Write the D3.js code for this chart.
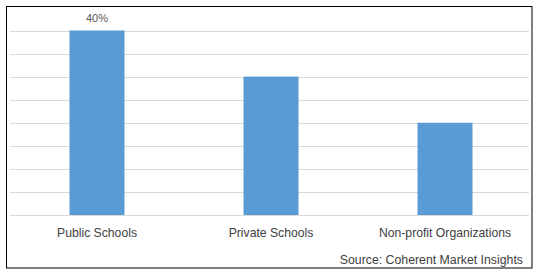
<!DOCTYPE html>
<html><head><meta charset="utf-8">
<script src="https://cdn.jsdelivr.net/npm/d3@7"></script>
<style>body{margin:0;background:#fff}svg{display:block}</style>
</head><body>
<script>
const categories = ["Public Schools", "Private Schools", "Non-profit Organizations"];
const values = [40, 30, 20];
const dataLabels = ["40%", "", ""];
const gridTicks = [0, 5, 10, 15, 20, 25, 30, 35, 40];
const sourceText = "Source: Coherent Market Insights";

const W = 538, H = 272;
const svg = d3.select("body").append("svg").attr("width", W).attr("height", H);
svg.append("rect").attr("x", 6.5).attr("y", 6.5).attr("width", 525.5).attr("height", 261.5)
  .attr("fill", "#fff").attr("stroke", "#000").attr("stroke-width", 1);

const x = d3.scaleBand().domain(categories).range([10, 532]).paddingInner(0.684).paddingOuter(0.342);
const y = d3.scaleLinear().domain([0, 40]).range([215, 30.5]);

svg.append("g").selectAll("line").data(gridTicks).join("line")
  .attr("x1", 10).attr("x2", 529)
  .attr("y1", d => Math.round(y(d)) + 0.5).attr("y2", d => Math.round(y(d)) + 0.5)
  .attr("stroke", "#d9d9d9").attr("stroke-width", 1);

svg.append("g").selectAll("rect").data(values).join("rect")
  .attr("x", (d, i) => x(categories[i])).attr("width", x.bandwidth())
  .attr("y", d => y(d)).attr("height", d => y(0) - y(d))
  .attr("fill", "#5b9bd5");

svg.append("g").selectAll("text").data(dataLabels).join("text")
  .attr("x", (d, i) => x(categories[i]) + x.bandwidth() / 2)
  .attr("y", (d, i) => y(values[i]) - 9)
  .attr("text-anchor", "middle").attr("font-family", "Liberation Sans, Arial, sans-serif")
  .attr("font-size", 11).attr("fill", "#595959").text(d => d);

const xAxis = d3.axisBottom(x).tickSize(0).tickPadding(0);
const gx = svg.append("g").attr("transform", "translate(0,237)").call(xAxis);
gx.select(".domain").remove();
gx.selectAll("text").attr("dy", 0).attr("font-family", "Liberation Sans, Arial, sans-serif")
  .attr("font-size", 12.2).attr("fill", "#404040");

svg.append("text").attr("x", 523).attr("y", 264).attr("text-anchor", "end")
  .attr("font-family", "Liberation Sans, Arial, sans-serif").attr("font-size", 12.3)
  .attr("fill", "#404040").text(sourceText);
</script>
</body></html>
